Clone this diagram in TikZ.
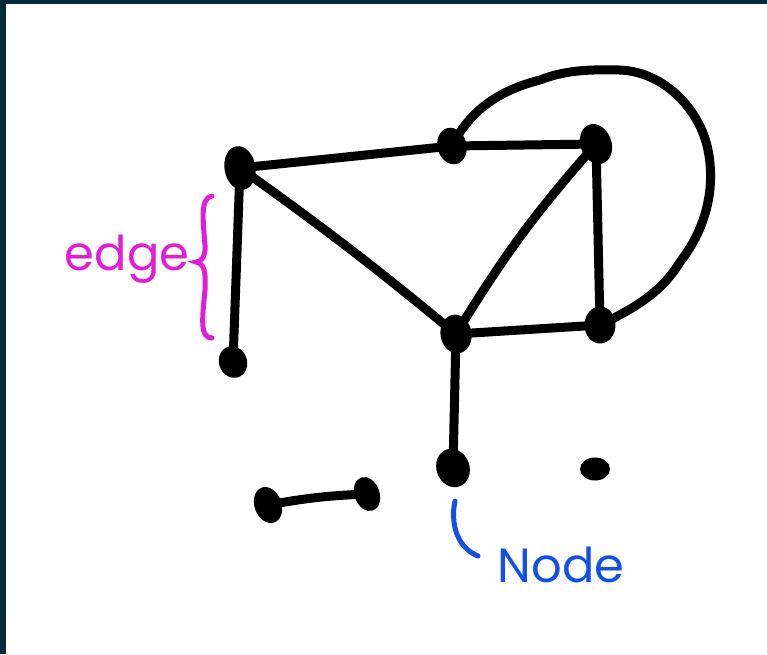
\documentclass[tikz,border=0pt]{standalone}
\usepackage{fontspec}
\setmainfont{Poppins}
\usetikzlibrary{shapes.geometric}
\definecolor{mag}{RGB}{224,30,214}
\definecolor{nodeblue}{RGB}{20,80,230}
\definecolor{frame}{RGB}{2,42,58}
\begin{document}
\begin{tikzpicture}[x=1pt,y=-1pt,
  vtx/.style={fill=black,ellipse,inner sep=0pt},
  lnk/.style={line width=9pt,line cap=round,line join=round},
  lbl/.style={font=\fontsize{48}{48}\selectfont,inner sep=0pt},
  pen/.style={line width=5pt,line cap=round}]
\useasboundingbox (0,0) rectangle (767,654);
\fill[frame] (0,0) rectangle (767,654);
\fill[white] (6,4) rectangle (767,654);
% nodes
\node[vtx,minimum width=31pt,minimum height=44pt,rotate=10] (A) at (240,168) {};
\node[vtx,minimum width=29pt,minimum height=37pt,rotate=15] (B) at (452,146) {};
\node[vtx,minimum width=31pt,minimum height=41pt,rotate=20] (C) at (596,144) {};
\node[vtx,minimum width=31pt,minimum height=39pt,rotate=10] (D) at (456,334) {};
\node[vtx,minimum width=31pt,minimum height=37pt,rotate=0] (E) at (600,325) {};
\node[vtx,minimum width=28pt,minimum height=32pt,rotate=20] (F) at (233,362) {};
\node[vtx,minimum width=33pt,minimum height=39pt,rotate=20] (G) at (453,468) {};
\node[vtx,minimum width=30pt,minimum height=23pt] (H) at (595,469) {};
\node[vtx,minimum width=27pt,minimum height=37pt,rotate=20] (I) at (268,505) {};
\node[vtx,minimum width=25pt,minimum height=35pt,rotate=20] (J) at (367,494) {};
% edges
\draw[lnk] (A.center) -- (B.center);
\draw[lnk] (B.center) -- (C.center);
\draw[lnk] (A.center) -- (F.center);
\draw[lnk] (A.center) to[bend left=2] (D.center);
\draw[lnk] (C.center) to[bend right=5] (D.center);
\draw[lnk] (C.center) -- (E.center);
\draw[lnk] (D.center) -- (E.center);
\draw[lnk] (D.center) -- (G.center);
\draw[lnk] (I.center) to[bend left=4] (J.center);
% loop
\coordinate (l1) at (540,80);
\coordinate (l2) at (620,70);
\coordinate (l3) at (708,150);
\coordinate (l4) at (680,262);
\draw[lnk] (B.center) .. controls (470,110) and (500,90) .. (l1)
  .. controls (570,68) and (600,70) .. (l2)
  .. controls (665,72) and (700,110) .. (l3)
  .. controls (716,190) and (705,230) .. (l4)
  .. controls (660,295) and (630,310) .. (E.center);
% edge label and brace
\coordinate (bt) at (212,196);
\coordinate (bb) at (212,338);
\coordinate (bm) at (196,262);
\draw[mag,pen] (bt) .. controls (200,198) and (203,220) .. (205,245)
  .. controls (206,258) and (200,262) .. (bm)
  .. controls (204,264) and (206,270) .. (205,290)
  .. controls (202,320) and (200,338) .. (bb);
\node[lbl,text=mag,anchor=base] (edgelbl) at (127,270) {edge};
% node label
\coordinate (h1) at (455,501);
\coordinate (h2) at (478,556);
\draw[nodeblue,pen] (h1) .. controls (450,525) and (458,548) .. (h2);
\node[lbl,text=nodeblue,anchor=base] (nodelbl) at (561,582) {Node};
\end{tikzpicture}
\end{document}
